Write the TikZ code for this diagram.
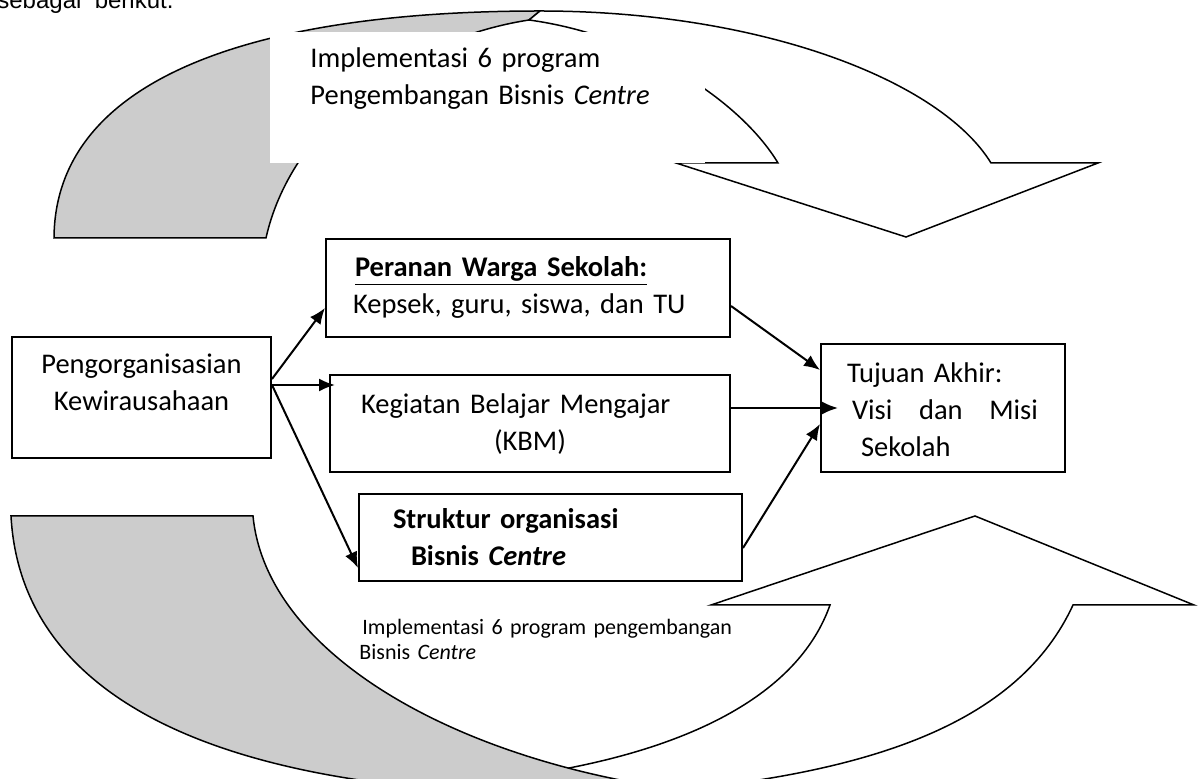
\documentclass[tikz,border=0pt]{standalone}
\usepackage{fontspec}
\setmainfont{Carlito}
\newfontfamily\arial{Liberation Sans}
\usetikzlibrary{arrows.meta}
\tikzstyle{kotak}=[draw, line width=1pt, fill=white, inner ysep=0pt, anchor=north west, align=left]
\tikzstyle{pita}=[draw, line width=0.75pt, fill=black!20]
\tikzstyle{pitaputih}=[draw, line width=0.75pt, fill=white]
\newcommand{\isi}{\fontsize{14.25}{18.5}\selectfont}
\newcommand{\kotak}{\node[kotak]}

\begin{document}
\begin{tikzpicture}[x=0.5pt, y=-0.5pt, font=\isi
  ,every edge/.style={draw, line width=1pt, -{Latex[length=8pt,width=6.5pt]}}
]
\useasboundingbox (0,0) rectangle (1199,779);
\clip (0,0) rectangle (1199,779);
\node[anchor=base west, inner sep=0pt, font=\arial\fontsize{12}{14}\selectfont] (pengantar) at (-3,9) {sebagai\ \ berikut.};
\filldraw[pita] (54,238) .. controls (55,80) and (250,11) .. (540,11) -- (529,20)
  .. controls (400,40) and (290,130) .. (266,238) -- cycle;
\filldraw[pitaputih] (529,20) -- (540,11) .. controls (760,11) and (940,80) .. (991,163)
  -- (1098,163) -- (906,237) -- (676,163) -- (778,163) .. controls (740,100) and (640,35) .. cycle;
\node[fill=white, anchor=north west, inner xsep=20pt, inner ysep=0pt, text width=177.5pt,
  text height=17.5pt, text depth=48pt, align=left] (atas) at (270,32)
  {Implementasi 6 program\\Pengembangan Bisnis \textit{Centre}};
\filldraw[pitaputih] (553,771) .. controls (700,745) and (800,690) .. (830,605) -- (711,605)
  -- (975,516) -- (1194,605) -- (1073,605) .. controls (1020,720) and (880,770) .. (680,790)
  -- (560,800) -- cycle;
\filldraw[pita] (11,516) -- (253,516) .. controls (265,640) and (420,740) .. (620,780)
  -- (700,810) -- (450,810) -- (450,790) .. controls (180,770) and (20,680) .. cycle;
\node[anchor=north west, inner sep=0pt, text width=200pt, text height=11pt, align=left,
  font=\fontsize{11}{12.5}\selectfont] (bawah) at (359,612)
  {\hspace*{1.5pt}Implementasi 6 program pengembangan\\Bisnis \textit{Centre}};
\kotak[inner xsep=0pt, text width=129.5pt, align=center, text height=18.5pt, text depth=42pt]
  (org) at (11,336) {Pengorganisasian\\Kewirausahaan};
\kotak[inner xsep=14.5pt, text width=173pt, text height=19pt, text depth=30pt]
  (pr) at (325,238) {\underline{\textbf{Peranan Warga Sekolah:}}\\\hspace*{-1pt}Kepsek, guru, siswa, dan TU};
\kotak[inner xsep=15.5pt, text width=169pt, text height=19.5pt, text depth=29pt]
  (kbm) at (329,374) {Kegiatan Belajar Mengajar\\\hspace*{66.5pt}(KBM)};
\kotak[inner xsep=17pt, text width=157.5pt, text height=17.5pt, text depth=26pt]
  (st) at (358,493) {\textbf{Struktur organisasi}\\\hspace*{9pt}\textbf{Bisnis \textit{Centre}}};
\kotak[inner xsep=13pt, text width=96pt, text height=19.5pt, text depth=44.5pt]
  (tj) at (820,343) {Tujuan Akhir:\\\hspace*{2.5pt}\hbox to 93pt{Visi\hfill dan\hfill Misi}\\\hspace*{7pt}Sekolah};
\path
([yshift=9.25pt]org.east) edge ([yshift=-10pt]pr.west)
([yshift=6.25pt]org.east) edge ([xshift=3pt,yshift=19.25pt]kbm.west)
([yshift=6.25pt]org.east) edge ([yshift=-15.25pt]st.west)
([yshift=-9pt]pr.east) edge ([yshift=19pt]tj.west)
([yshift=7.75pt]kbm.east) edge ([xshift=9pt]tj.west)
([yshift=-5.25pt]st.east) edge ([yshift=-8pt]tj.west)
;
\end{tikzpicture}
\end{document}
